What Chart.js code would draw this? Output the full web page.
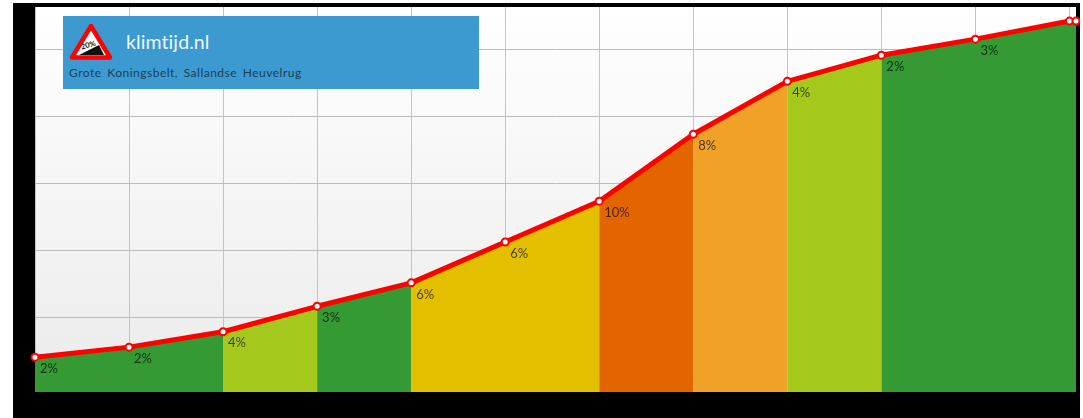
<!DOCTYPE html>
<html>
<head>
<meta charset="utf-8">
<title>klimtijd.nl</title>
<script src="https://cdn.jsdelivr.net/npm/chart.js@4"></script>
<style>
  html, body { margin: 0; padding: 0; background: #fff; overflow: hidden; }
  body { width: 1083px; height: 418px; position: relative; font-family: Lato, sans-serif; }
  #grafiek { position: absolute; left: 13px; top: 3px; }
  #banner { position: absolute; left: 63px; top: 16px; width: 416px; height: 73px; background: #3d9ad1; }
  #banner svg { position: absolute; left: 6px; top: 6px; }
  #titel { position: absolute; left: 63px; top: 13px; font-size: 19.5px; line-height: 26px; color: #eef8fd; letter-spacing: .1px; }
  #route { position: absolute; left: 6px; top: 49px; font-size: 12px; line-height: 15px; color: #173f58; letter-spacing: .5px; word-spacing: 2px; }
</style>
</head>
<body>
<canvas id="grafiek" width="1067" height="415"></canvas>
<div id="banner">
  <svg width="46" height="40" viewBox="0 0 46 40">
    <polygon points="22,4 41,35.5 3,35.5" fill="#fff" stroke="#f00" stroke-width="4.5" stroke-linejoin="round"/>
    <polygon points="10,33 35,33 30,23" fill="#111"/>
    <text x="20" y="25.5" font-family="Lato" font-size="7.5" font-weight="700" text-anchor="middle" fill="#111" transform="rotate(-16 20 25.5)">20%</text>
  </svg>
  <div id="titel">klimtijd.nl</div>
  <div id="route">Grote Koningsbelt, Sallandse Heuvelrug</div>
</div>
<script>
// afstand in km, hoogte in m
const afstand = [0, 1, 2, 3, 4, 5, 6, 7, 8, 9, 10, 11, 11.07];
const hoogte = [4.0, 5.5, 7.8, 11.6, 15.1, 21.2, 27.3, 37.3, 45.2, 49.1, 51.5, 54.2, 54.2];
const hellingLabels = ['2%', '2%', '4%', '3%', '6%', '6%', '10%', '8%', '4%', '2%', '3%'];
const kleuren = ['#359a34', '#359a34', '#a4c91c', '#359a34', '#e3bf00', '#e3bf00', '#e36500', '#efa227', '#a4c91c', '#359a34', '#359a34', '#359a34'];

const punten = afstand.map((x, i) => ({ x, y: hoogte[i] }));
const minY = -1.2, maxY = 56.3;

// lichte lijntjes over de gekleurde vlakken
const stokjes = [];
punten.slice(1, 12).forEach(p => {
  stokjes.push({ x: p.x, y: minY }, { x: p.x, y: p.y }, { x: p.x, y: null });
});

const achtergrond = {
  id: 'achtergrond',
  beforeDraw(chart) {
    const { ctx, chartArea: a } = chart;
    ctx.save();
    ctx.fillStyle = '#000';
    ctx.fillRect(0, 0, chart.width, chart.height);
    const g = ctx.createLinearGradient(0, a.top, 0, a.bottom);
    g.addColorStop(0, '#ffffff');
    g.addColorStop(1, '#ebebeb');
    ctx.fillStyle = g;
    ctx.fillRect(a.left, a.top, a.width, a.height);
    ctx.restore();
  }
};

const hellingTekst = {
  id: 'hellingTekst',
  afterDatasetsDraw(chart) {
    const { ctx, scales } = chart;
    ctx.save();
    ctx.font = '13px Lato, sans-serif';
    ctx.fillStyle = 'rgba(0,0,0,.68)';
    ctx.textBaseline = 'middle';
    hellingLabels.forEach((t, i) => {
      ctx.fillText(t, scales.x.getPixelForValue(afstand[i]) + 5, scales.y.getPixelForValue(hoogte[i]) + 11.5);
    });
    ctx.restore();
  }
};

new Chart(document.getElementById('grafiek'), {
  type: 'line',
  data: {
    datasets: [
      {
        data: punten,
        order: 1,
        clip: false,
        borderColor: '#f00',
        borderWidth: 5,
        pointRadius: 3.5,
        pointBorderWidth: 2,
        pointBorderColor: '#f00',
        pointBackgroundColor: '#fff',
        tension: 0,
        fill: 'start',
        segment: { backgroundColor: c => kleuren[c.p0DataIndex] }
      },
      {
        data: stokjes,
        order: 2,
        borderColor: 'rgba(255,255,255,.13)',
        borderWidth: 1,
        pointRadius: 0,
        spanGaps: false,
        fill: false
      }
    ]
  },
  options: {
    responsive: false,
    animation: false,
    devicePixelRatio: 1,
    layout: { autoPadding: false, padding: { left: 22, right: 4, top: 4, bottom: 26 } },
    plugins: { legend: { display: false }, tooltip: { enabled: false } },
    scales: {
      x: {
        type: 'linear', min: 0, max: 11.07,
        ticks: { display: false, stepSize: 1, includeBounds: false },
        grid: { color: '#c4c4c4', drawTicks: false },
        border: { display: false }
      },
      y: {
        min: minY, max: maxY,
        ticks: { display: false, stepSize: 10, includeBounds: false },
        grid: { color: '#bcbcbc', drawTicks: false },
        border: { display: false }
      }
    }
  },
  plugins: [achtergrond, hellingTekst]
});
</script>
</body>
</html>
